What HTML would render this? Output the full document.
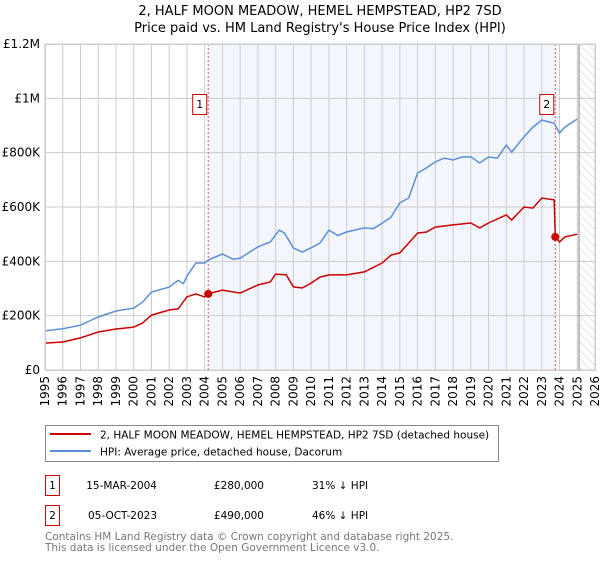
<!DOCTYPE html>
<html><head><meta charset="utf-8"><style>
body{margin:0;background:#fff;}
svg text{font-family:"DejaVu Sans","Liberation Sans",sans-serif;}
</style></head><body>
<svg id="chart" width="600" height="560" xmlns="http://www.w3.org/2000/svg">
<text x="320" y="15" text-anchor="middle" font-size="13">2, HALF MOON MEADOW, HEMEL HEMPSTEAD, HP2 7SD</text>
<text x="320" y="32" text-anchor="middle" font-size="13">Price paid vs. HM Land Registry's House Price Index (HPI)</text>
<g id="plot"></g>
<rect x="45.5" y="425.5" width="453" height="36" fill="#fff" stroke="#888"/>
<line x1="50" y1="434" x2="91" y2="434" stroke="#cc0000" stroke-width="2"/>
<text x="100" y="438.5" font-size="10.5">2, HALF MOON MEADOW, HEMEL HEMPSTEAD, HP2 7SD (detached house)</text>
<line x1="50" y1="451" x2="91" y2="451" stroke="#5b8fd4" stroke-width="2"/>
<text x="100" y="455.5" font-size="10.5">HPI: Average price, detached house, Dacorum</text>
<rect x="45.5" y="475.5" width="14" height="20" fill="none" stroke="#cc0000"/>
<text x="52.5" y="489" text-anchor="middle" font-size="10.5">1</text>
<text x="157" y="489" text-anchor="end" font-size="10.5">15-MAR-2004</text>
<text x="264" y="489" text-anchor="end" font-size="10.5">£280,000</text>
<text x="312" y="489" font-size="10.5">31% ↓ HPI</text>
<rect x="45.5" y="505.5" width="14" height="20" fill="none" stroke="#cc0000"/>
<text x="52.5" y="519" text-anchor="middle" font-size="10.5">2</text>
<text x="157" y="519" text-anchor="end" font-size="10.5">05-OCT-2023</text>
<text x="264" y="519" text-anchor="end" font-size="10.5">£490,000</text>
<text x="312" y="519" font-size="10.5">46% ↓ HPI</text>
<text x="45" y="540" font-size="10.5" fill="#777">Contains HM Land Registry data © Crown copyright and database right 2025.</text>
<text x="45" y="551" font-size="10.5" fill="#777">This data is licensed under the Open Government Licence v3.0.</text>
</svg>
<script>
const yTickValues=[0,200000,400000,600000,800000,1000000,1200000];
const yTickLabels=["£0","£200K","£400K","£600K","£800K","£1M","£1.2M"];
const xTickYears=[1995,1996,1997,1998,1999,2000,2001,2002,2003,2004,2005,2006,2007,2008,2009,2010,2011,2012,2013,2014,2015,2016,2017,2018,2019,2020,2021,2022,2023,2024,2025,2026];
const hpiYears=[1995,1996,1997,1998,1999,2000,2000.5,2001,2002,2002.5,2002.8,2003,2003.5,2004,2004.2,2005,2005.6,2006,2007,2007.7,2008.2,2008.5,2009,2009.5,2010,2010.5,2011,2011.5,2012,2013,2013.5,2014,2014.5,2015,2015.5,2016,2016.5,2017,2017.5,2018,2018.5,2019,2019.5,2020,2020.5,2021,2021.3,2022,2022.5,2023,2023.7,2024,2024.3,2025];
const hpiValues=[144000,152000,165000,195000,217000,228000,250000,287000,305000,330000,318000,345000,394000,394000,405000,427000,408000,412000,453000,471000,515000,504000,449000,434000,450000,467000,515000,495000,508000,523000,520000,540000,563000,615000,633000,725000,744000,766000,780000,773000,784000,785000,762000,784000,780000,828000,802000,858000,894000,920000,909000,872000,894000,924000];
const priceYears=[1995,1996,1997,1998,1999,2000,2000.5,2001,2002,2002.5,2003,2003.5,2004,2004.2,2005,2006,2007,2007.7,2008,2008.6,2009,2009.5,2010,2010.5,2011,2012,2013,2014,2014.5,2015,2016,2016.5,2017,2018,2019,2019.5,2020,2021,2021.3,2022,2022.5,2023,2023.7,2023.76,2024,2024.3,2025];
const priceValues=[99000,103000,118000,140000,151000,158000,173000,202000,221000,225000,269000,280000,269000,280000,294000,283000,313000,324000,353000,350000,306000,302000,320000,342000,350000,350000,361000,394000,423000,431000,504000,508000,526000,534000,541000,523000,541000,571000,552000,600000,596000,633000,626000,490000,471000,490000,500000];
const saleYears=[2004.2,2023.76];
const salePrices=[280000,490000];
const saleLabels=["1","2"];

const NS="http://www.w3.org/2000/svg";
const L=45,R=595,T=44,B=370,X0=1995,X1=2026,YMAX=1200000;
const xs=v=>L+(v-X0)/(X1-X0)*(R-L);
const ys=v=>B-v/YMAX*(B-T);
const g=document.getElementById('plot');
function mk(tag,attrs){const e=document.createElementNS(NS,tag);for(const k in attrs)e.setAttribute(k,attrs[k]);g.appendChild(e);return e;}

let e;
e=mk('rect',{x:xs(saleYears[0]),y:T,width:xs(saleYears[1])-xs(saleYears[0]),height:B-T,fill:'#eef3fc',opacity:0.7});


const defs=document.createElementNS(NS,'defs');
defs.innerHTML='<pattern id="hatch" width="6" height="6" patternUnits="userSpaceOnUse" patternTransform="rotate(-45)"><line x1="0" y1="0" x2="0" y2="6" stroke="#ccc" stroke-width="1"/></pattern>';
g.appendChild(defs);
const fut=2025.1;
e=mk('rect',{x:xs(fut),y:T,width:R-xs(fut),height:B-T,fill:'url(#hatch)'});



yTickValues.forEach((v,i)=>{
 e=mk('line',{x1:L,x2:R,y1:ys(v),y2:ys(v),stroke:'#cccccc','stroke-width':1});
 
 
 e=mk('text',{x:L-5,y:ys(v)+4,'text-anchor':'end','font-size':12});
 e.textContent=yTickLabels[i];
 
 
});
xTickYears.forEach(y=>{
 e=mk('line',{x1:xs(y),x2:xs(y),y1:T,y2:B,stroke:'#cccccc','stroke-width':1});
 
 
 e=mk('text',{x:0,y:0,'text-anchor':'end','font-size':12,transform:`translate(${xs(y)+4},${B+6}) rotate(-90)`});
 e.textContent=y;
 
 
});
e=mk('line',{x1:xs(fut),x2:xs(fut),y1:T,y2:B,stroke:'#999','stroke-width':1.2});



saleYears.forEach((s,i)=>{
 e=mk('line',{x1:xs(s),x2:xs(s),y1:T,y2:B,stroke:'#e05050','stroke-width':1,'stroke-dasharray':'2,2'});
 
 
});

const path=(xsArr,vals)=>xsArr.map((x,i)=>(i?'L':'M')+xs(x).toFixed(1)+','+ys(vals[i]).toFixed(1)).join('');
e=mk('path',{d:path(hpiYears,hpiValues),fill:'none',stroke:'#5b8fd4','stroke-width':1.5});


e=mk('path',{d:path(priceYears,priceValues),fill:'none',stroke:'#cc0000','stroke-width':1.5});



saleYears.forEach((s,i)=>{
 e=mk('circle',{cx:xs(s),cy:ys(salePrices[i]),r:4,fill:'#cc0000'});
 
 
 const bx=xs(s)-16;
 e=mk('rect',{x:bx+0.5,y:94.5,width:14,height:20,fill:'#fff',stroke:'#cc0000'});
 
 
 e=mk('text',{x:bx+7.5,y:108,'text-anchor':'middle','font-size':11});
 e.textContent=saleLabels[i];
 
 
});
e=mk('rect',{x:L+0.5,y:T+0.5,width:R-L,height:B-T,fill:'none',stroke:'#cccccc'});


</script>
</body></html>
